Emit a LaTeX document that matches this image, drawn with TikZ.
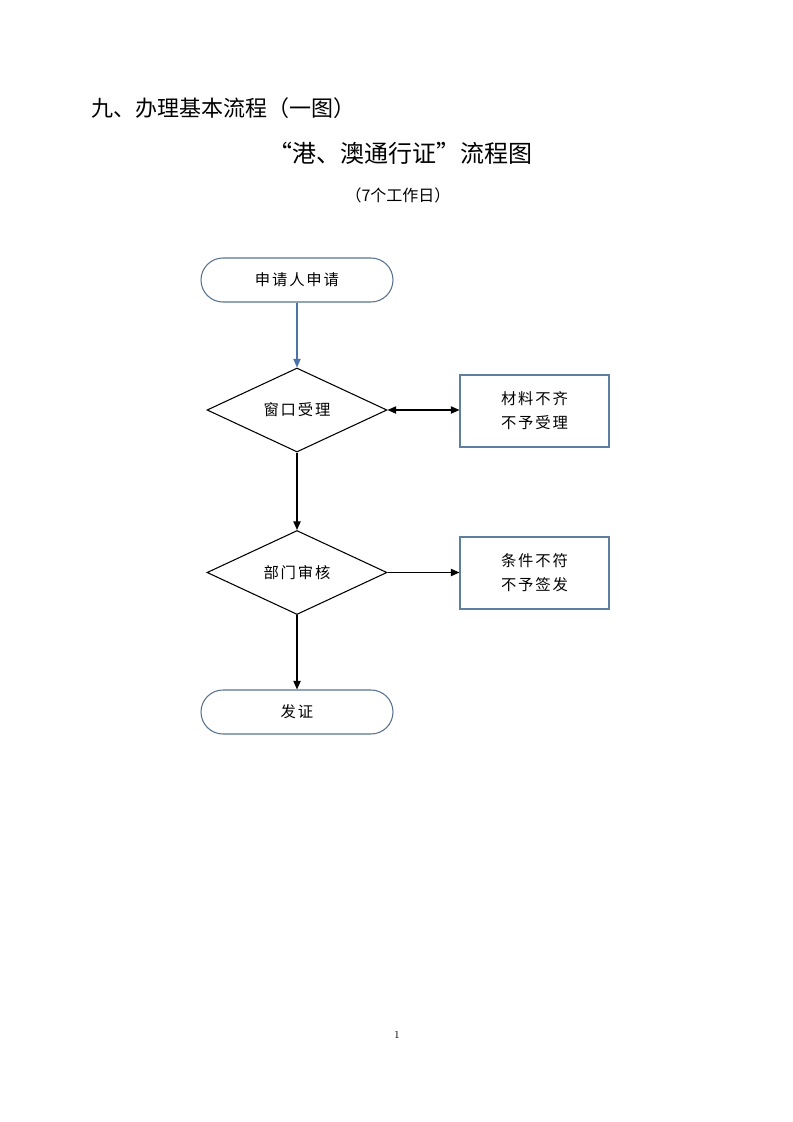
\documentclass[tikz,border=0pt]{standalone}
\usepackage{fontspec}
\usetikzlibrary{shapes.geometric,arrows.meta}
\newfontfamily\cjk{Noto Sans CJK SC}
\newfontfamily\flowfont[LetterSpace=12]{Noto Sans CJK SC}
\definecolor{termline}{HTML}{5A7390}
\definecolor{boxline}{HTML}{5F7F9E}
\definecolor{bluearrow}{HTML}{4A74A8}
\tikzset{
  terminal/.style={draw=termline, line width=0.8pt, rounded corners=16.5pt, minimum width=144pt, minimum height=33pt, inner sep=0pt, font=\flowfont\fontsize{11.5}{18}\selectfont},
  decision/.style={draw=black, line width=0.8pt, diamond, minimum width=135pt, minimum height=63pt, inner sep=0pt, font=\flowfont\fontsize{11.5}{18}\selectfont},
  outbox/.style={draw=boxline, line width=0.8pt, minimum width=111.75pt, minimum height=54pt, inner sep=0pt, align=center, font=\flowfont\fontsize{11.5}{18}\selectfont},
  flow/.style={-{Triangle[length=6.5pt,width=5.5pt]}, line width=0.9pt, draw=black},
  bflow/.style={-{Triangle[length=6.5pt,width=5.5pt]}, line width=0.8pt, draw=bluearrow, fill=bluearrow},
  dflow/.style={{Triangle[length=6.5pt,width=5.5pt]}-{Triangle[length=6.5pt,width=5.5pt]}, line width=0.9pt, draw=black}
}
\begin{document}
\begin{tikzpicture}[x=0.75pt,y=-0.75pt]
\useasboundingbox (0,0) rectangle (793,1122);
\fill[white] (0,0) rectangle (793,1122);
% headings
\node[anchor=west, inner sep=0pt, font=\cjk\fontsize{16.5}{18}\selectfont] (h1) at (91,108) {九、办理基本流程（一图）};
\node[inner sep=0pt, font=\cjk\fontsize{18}{20}\selectfont] (h2) at (400,153) {“港、澳通行证”流程图};
\node[inner sep=0pt, font=\cjk\fontsize{12}{13}\selectfont] (h3) at (398,195) {（7个工作日）};
% flow
\node[terminal] (start) at (297,280) {申请人申请};
\node[decision] (d1) at (297,410) {窗口受理};
\node[outbox] (b1) at (534.5,411) {材料不齐\\不予受理};
\node[decision] (d2) at (297,572.5) {部门审核};
\node[outbox] (b2) at (534.5,573) {条件不符\\不予签发};
\node[terminal] (end) at (297,712) {发证};
\draw[bflow] (start.south) -- (d1.north);
\draw[dflow] (d1.east) -- (d1.east -| b1.west);
\draw[flow] (d1.south) -- (d2.north);
\draw[flow] (d2.east) -- (d2.east -| b2.west);
\draw[flow] (d2.south) -- (end.north);
% page number
\node[inner sep=0pt, font=\fontsize{8}{10}\selectfont] (pg) at (397,1035) {1};
\end{tikzpicture}
\end{document}
